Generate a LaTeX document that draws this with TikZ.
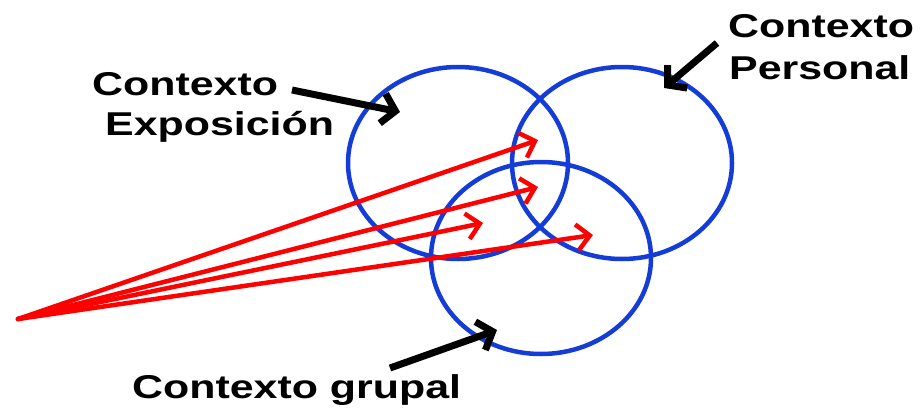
\documentclass[tikz,border=0pt]{standalone}
\usepackage{fontspec}
\setmainfont{Liberation Sans}[FakeStretch=1.3]
\usetikzlibrary{arrows.meta,shapes.geometric}
\definecolor{ctxblue}{RGB}{20,60,215}
\definecolor{arrred}{RGB}{255,0,0}
\begin{document}
\begin{tikzpicture}[x=1pt,y=-1pt,
  ctx/.style={draw=ctxblue, line width=4.5pt, ellipse, minimum width=220pt, minimum height=192pt, inner sep=0pt},
  lbl/.style={font=\bfseries\fontsize{33}{41}\selectfont, inner sep=0pt, anchor=base west},
  redarr/.style={draw=arrred, line width=4.5pt, line cap=round, -{Straight Barb[length=13pt,width=26pt]}},
  blkarr/.style={draw=black, line width=7pt, -{Straight Barb[length=13pt,width=30pt]}}]
\useasboundingbox (0,0) rectangle (923,407);
% ellipses
\node[ctx] (expo) at (458,163) {};
\node[ctx] (pers) at (622,163) {};
\node[ctx] (grup) at (541,258) {};
% labels
\node[lbl] (expo1) at (92,95) {Contexto};
\node[lbl] (expo2) at (105,135) {Exposición};
\node[lbl] (pers1) at (728,37) {Contexto};
\node[lbl] (pers2) at (729,79) {Personal};
\node[lbl] (grupl) at (132,398) {Contexto grupal};
% arrow coordinates
\coordinate (expoS) at (292,90);
\coordinate (expoT) at (400,112);
\coordinate (persS) at (717,43);
\coordinate (persT) at (664,88);
\coordinate (grupS) at (390,368);
\coordinate (grupT) at (497,330);
\coordinate (src) at (18,319);
\coordinate (r1) at (538,140);
\coordinate (r2) at (538,187);
\coordinate (r3) at (483,223);
\coordinate (r4) at (593,235);
% black arrows
\draw[blkarr] (expoS) -- (expoT);
\draw[blkarr] (persS) -- (persT);
\draw[blkarr] (grupS) -- (grupT);
% red arrows
\draw[redarr] (src) -- (r1);
\draw[redarr] (src) -- (r2);
\draw[redarr] (src) -- (r3);
\draw[redarr] (src) -- (r4);
\end{tikzpicture}
\end{document}
